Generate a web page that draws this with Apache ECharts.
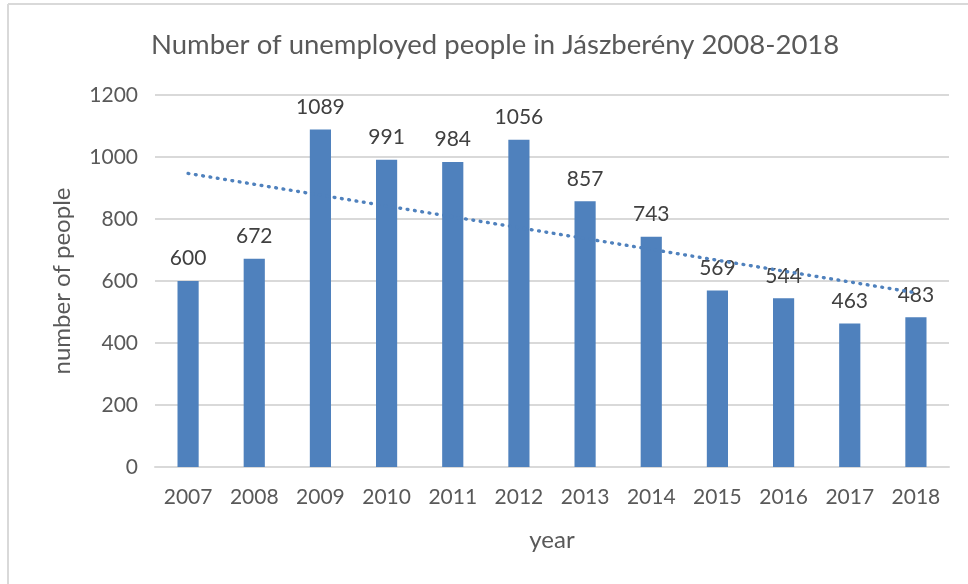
<!DOCTYPE html>
<html>
<head>
<meta charset="utf-8">
<script src="https://cdn.jsdelivr.net/npm/echarts@6/dist/echarts.min.js"></script>
<style>
  html, body { margin: 0; padding: 0; background: #fff; }
  #chart { width: 968px; height: 584px; }
</style>
</head>
<body>
<div id="chart"></div>
<script>
// Unemployment counts per year
const years = ['2007', '2008', '2009', '2010', '2011', '2012', '2013', '2014', '2015', '2016', '2017', '2018'];
const unemployed = [600, 672, 1089, 991, 984, 1056, 857, 743, 569, 544, 463, 483];
// Linear trend: values at the first and last year
const trendEnds = [947, 562];
const yTicks = [0, 200, 400, 600, 800, 1000, 1200];

const trendData = years.map((_, i) =>
  i === 0 ? trendEnds[0] : (i === years.length - 1 ? trendEnds[1] : null));

const FONT = 'Lato, "Open Sans", sans-serif';
const TEXT = '#595959';
const BLUE = '#4f81bd';

const chart = echarts.init(document.getElementById('chart'), null, { renderer: 'canvas' });
chart.setOption({
  backgroundColor: '#fff',
  animation: false,
  title: {
    text: 'Number of unemployed people in Jászberény 2008-2018',
    left: 146,
    top: 26,
    textStyle: { fontFamily: FONT, fontSize: 27.5, fontWeight: 'normal', color: TEXT }
  },
  graphic: [
    { type: 'line', shape: { x1: 8, y1: 4, x2: 968, y2: 4 }, style: { stroke: '#d9d9d9', lineWidth: 2 } },
    { type: 'line', shape: { x1: 8, y1: 4, x2: 8, y2: 584 }, style: { stroke: '#d9d9d9', lineWidth: 2 } }
  ],
  grid: { left: 155, right: 19, top: 95, bottom: 117, containLabel: false },
  xAxis: {
    type: 'category',
    data: years,
    name: 'year',
    nameLocation: 'middle',
    nameGap: 61,
    nameTextStyle: { fontFamily: FONT, fontSize: 24, color: TEXT },
    axisTick: { show: false },
    axisLine: { lineStyle: { color: '#d9d9d9', width: 2 } },
    axisLabel: { fontFamily: FONT, fontSize: 21, color: TEXT, margin: 20 }
  },
  yAxis: {
    type: 'value',
    min: yTicks[0],
    max: yTicks[yTicks.length - 1],
    interval: 200,
    name: 'number of people',
    nameLocation: 'middle',
    nameGap: 81,
    nameTextStyle: { fontFamily: FONT, fontSize: 24, color: TEXT },
    axisLine: { show: false },
    axisTick: { show: false },
    axisLabel: { fontFamily: FONT, fontSize: 21, color: TEXT, margin: 17, formatter: v => String(v) },
    splitLine: { lineStyle: { color: '#d9d9d9', width: 2 } }
  },
  series: [
    {
      type: 'bar',
      data: unemployed,
      barWidth: '32%',
      itemStyle: { color: BLUE },
      label: {
        show: true,
        position: 'top',
        distance: 12,
        fontFamily: FONT,
        fontSize: 21,
        color: '#404040'
      }
    },
    {
      type: 'line',
      data: trendData,
      connectNulls: true,
      symbol: 'none',
      lineStyle: { color: BLUE, width: 3.4, type: [0.8, 6.6], cap: 'round' },
      z: 3
    }
  ]
});
</script>
</body>
</html>
